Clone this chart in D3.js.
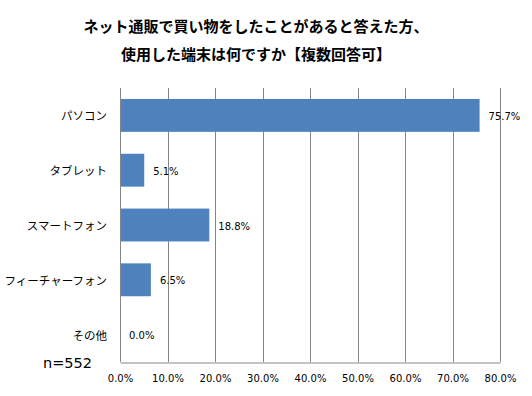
<!DOCTYPE html>
<html>
<head>
<meta charset="utf-8">
<script src="https://cdn.jsdelivr.net/npm/d3@7"></script>
<style>
  body { margin: 0; background: #fff; }
  svg { display: block; }
</style>
</head>
<body>
<svg id="chart" width="532" height="396"></svg>
<script>
const titleLines = ['ネット通販で買い物をしたことがあると答えた方、', '使用した端末は何ですか【複数回答可】'];
const categories = ['パソコン', 'タブレット', 'スマートフォン', 'フィーチャーフォン', 'その他'];
const values = [75.7, 5.1, 18.8, 6.5, 0.0];
const tickValues = [0, 10, 20, 30, 40, 50, 60, 70, 80];
const sampleNote = 'n=552';

const svg = d3.select('#chart');
const margin = {top: 88, left: 120, right: 32, bottom: 34};
const width = 532 - margin.left - margin.right;
const height = 396 - margin.top - margin.bottom;
const jpFont = '"Noto Sans CJK JP", sans-serif';
const numFont = '"DejaVu Sans", sans-serif';

const x = d3.scaleLinear().domain([0, 80]).range([0, width]);
const y = d3.scaleBand().domain(categories).range([0, height]).paddingInner(0.4).paddingOuter(0.2);

// title
svg.append('g')
    .selectAll('text')
    .data(titleLines)
    .enter()
    .append('text')
    .attr('x', 256)
    .attr('y', (_, i) => 25 + i * 28)
    .attr('text-anchor', 'middle')
    .attr('dominant-baseline', 'central')
    .style('font-family', jpFont)
    .style('font-weight', 'bold')
    .style('font-size', '15px')
    .style('fill', '#000')
    .text(d => d);

const plot = svg.append('g').attr('transform', `translate(${margin.left},${margin.top})`);

// vertical gridlines
plot.append('g')
    .selectAll('line')
    .data(tickValues)
    .enter()
    .append('line')
    .attr('x1', d => Math.round(x(d)) + 0.5)
    .attr('x2', d => Math.round(x(d)) + 0.5)
    .attr('y1', 0)
    .attr('y2', height)
    .attr('stroke', '#868686')
    .attr('stroke-width', 1);

// bottom axis
const xAxis = d3.axisBottom(x).tickValues(tickValues).tickSize(0).tickPadding(12)
    .tickFormat(d => d.toFixed(1) + '%');
const gx = plot.append('g').attr('transform', `translate(0,${height + 0.5})`).call(xAxis);
gx.select('.domain').attr('stroke', '#868686');
gx.selectAll('text')
    .style('font-family', numFont)
    .style('font-size', '10px')
    .style('fill', '#000');

// category labels
plot.append('g')
    .selectAll('text')
    .data(categories)
    .enter()
    .append('text')
    .attr('x', -13)
    .attr('y', d => y(d) + y.bandwidth() / 2)
    .attr('text-anchor', 'end')
    .attr('dominant-baseline', 'central')
    .style('font-family', jpFont)
    .style('font-size', '11.5px')
    .style('fill', '#000')
    .text(d => d);

// bars
plot.append('g')
    .selectAll('rect')
    .data(values)
    .enter()
    .append('rect')
    .attr('x', x(0) + 1)
    .attr('y', (_, i) => y(categories[i]))
    .attr('width', d => Math.max(0, x(d) - x(0) - 1))
    .attr('height', y.bandwidth())
    .attr('fill', '#4F81BD');

// value labels
plot.append('g')
    .selectAll('text')
    .data(values)
    .enter()
    .append('text')
    .attr('x', d => x(d) + 9)
    .attr('y', (_, i) => y(categories[i]) + y.bandwidth() / 2 + 1)
    .attr('dominant-baseline', 'central')
    .style('font-family', numFont)
    .style('font-size', '10px')
    .style('fill', '#000')
    .text(d => d.toFixed(1) + '%');

// sample size
svg.append('text')
    .attr('x', 43)
    .attr('y', 363)
    .attr('dominant-baseline', 'central')
    .style('font-family', numFont)
    .style('font-size', '14.5px')
    .style('fill', '#000')
    .text(sampleNote);
</script>
</body>
</html>
